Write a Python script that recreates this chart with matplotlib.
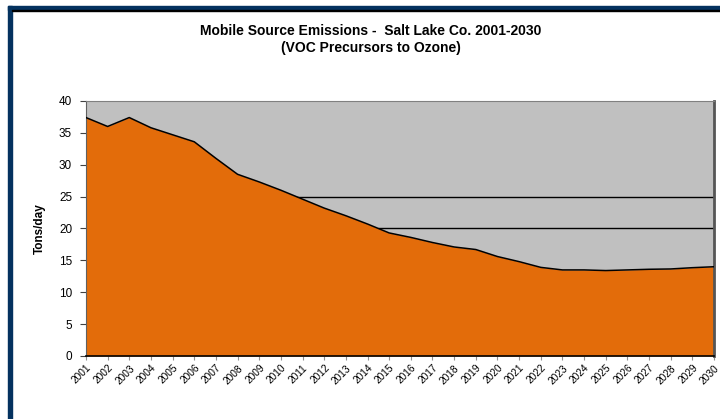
import matplotlib
matplotlib.use("Agg")
import matplotlib.pyplot as plt
import numpy as np
from matplotlib.patches import Rectangle

# data
years = list(range(2001, 2031))
voc = [37.4, 36.0, 37.4, 35.8, 34.7, 33.6, 31.0, 28.5, 27.3, 26.0,
       24.6, 23.2, 22.0, 20.7, 19.3, 18.6, 17.8, 17.1, 16.7, 15.6,
       14.8, 13.9, 13.5, 13.5, 13.4, 13.5, 13.6, 13.65, 13.85, 14.0]
ref_levels = [25, 20]
yticks = [0, 5, 10, 15, 20, 25, 30, 35, 40]

title = "Mobile Source Emissions -  Salt Lake Co. 2001-2030\n(VOC Precursors to Ozone)"

plt.rcParams['font.family'] = ['Liberation Sans', 'DejaVu Sans']

fig = plt.figure(figsize=(7.2, 4.19), dpi=100)
ax = fig.add_axes([0.1194, 0.1504, 0.8723, 0.6086])

x = np.array(years)
y = np.array(voc)

ax.set_facecolor("#c0c0c0")
ax.fill_between(x, 0, y, color="#e36c0a", linewidth=0, zorder=2)
ax.plot(x, y, color="black", linewidth=1.1, zorder=3)

# reference lines start where the curve drops through them
falling = slice(0, 23)
for lvl in ref_levels:
    xs = np.interp(lvl, y[falling][::-1], x[falling][::-1])
    ax.hlines(lvl, xs, x[-1], color="black", linewidth=1.0, zorder=1)

ax.set_xlim(x[0], x[-1])
ax.set_ylim(0, 40)
ax.set_yticks(yticks)
ax.set_xticks(years)
ax.set_xticklabels([str(v) for v in years], rotation=45, ha="right",
                   rotation_mode="anchor", fontsize=7.3)
ax.tick_params(axis="y", labelsize=8.5, length=4, width=0.8, color="#404040", pad=6)
ax.tick_params(axis="x", length=3, width=0.8, color="#909090", pad=2)

ax.spines["top"].set_color("#808080")
ax.spines["left"].set_color("#606060")
ax.spines["bottom"].set_color("black")
ax.spines["bottom"].set_linewidth(1.2)
ax.spines["right"].set_color("#555555")
ax.spines["right"].set_linewidth(2.0)

ax.set_ylabel("Tons/day", fontsize=8.5, fontweight="bold", labelpad=9)

fig.text(0.515, 0.905, title, ha="center", va="center", fontsize=10,
         fontweight="bold", linespacing=1.25)

# dark blue frame along the top and left edges
fig.patches.append(Rectangle((8 / 720, 0), 4 / 720, 1 - 6 / 419,
                             transform=fig.transFigure, color="#04325f", zorder=5))
fig.patches.append(Rectangle((8 / 720, 1 - 10 / 419), 1 - 8 / 720, 4 / 419,
                             transform=fig.transFigure, color="#04325f", zorder=5))
fig.patches.append(Rectangle((12 / 720, 1 - 11 / 419), 1, 1 / 419,
                             transform=fig.transFigure, color="black", zorder=5))

fig.savefig("out.png", dpi=100)
